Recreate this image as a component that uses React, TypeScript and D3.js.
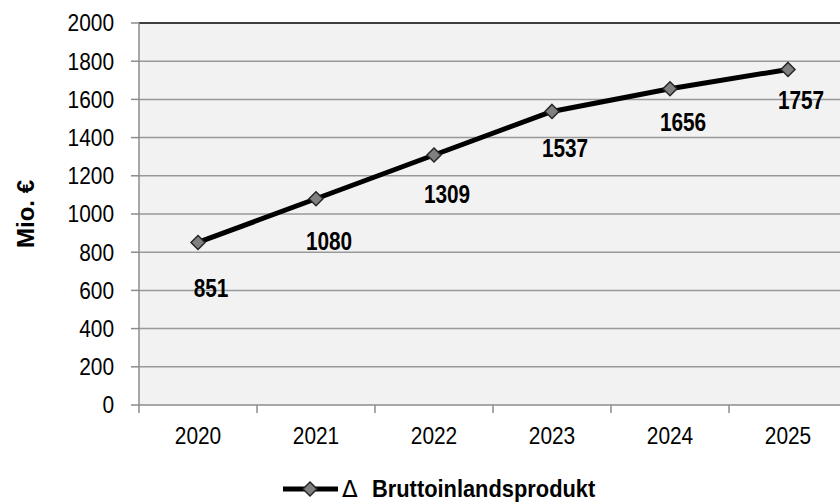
import React from "react";
import * as d3 from "d3";

const years = ["2020", "2021", "2022", "2023", "2024", "2025"];
const values = [851, 1080, 1309, 1537, 1656, 1757];
const yTicks = [0, 200, 400, 600, 800, 1000, 1200, 1400, 1600, 1800, 2000];
const seriesName = "Bruttoinlandsprodukt";
const yTitle = "Mio. €";

const W = 840, H = 504;
const left = 139, top = 23, bottom = 405, bandW = 118;

function NText(props: { x: number; y: number; sx: number; anchor: "start" | "middle" | "end"; size: number; bold?: boolean; children: any }) {
  return (
    <text
      transform={`translate(${props.x},${props.y}) scale(${props.sx},1)`}
      dy="0.35em"
      textAnchor={props.anchor}
      fontSize={props.size}
      fontWeight={props.bold ? "bold" : "normal"}
      fill="#000"
    >
      {props.children}
    </text>
  );
}

export default function App() {
  const x = d3.scaleBand().domain(years).range([left, left + bandW * years.length]);
  const y = d3.scaleLinear().domain([0, 2000]).range([bottom, top]);
  const cx = (d: string) => (x(d) as number) + x.bandwidth() / 2;
  const line = d3.line<number>().x((_, i) => cx(years[i])).y((v) => y(v));
  const font = "'Liberation Sans', Arial, sans-serif";
  const diamond = (s: number) => `M0,${-s}L${s},0L0,${s}L${-s},0Z`;
  return (
    <svg width={W} height={H} style={{ position: "absolute", left: 0, top: 0 }} fontFamily={font}>
      <rect x={0} y={0} width={W} height={H} fill="#fff" />
      <rect x={left} y={top} width={W - left} height={bottom - top} fill="#f2f2f2" />
      {yTicks.filter((t) => t > 0 && t < 2000).map((t) => (
        <line key={t} x1={left} x2={W} y1={y(t)} y2={y(t)} stroke="#999" strokeWidth={1.5} />
      ))}
      <line x1={left} x2={W} y1={top} y2={top} stroke="#000" strokeWidth={1.5} />
      <line x1={left} x2={left} y1={top} y2={bottom} stroke="#8c8c8c" strokeWidth={1.5} />
      <line x1={left} x2={W} y1={bottom} y2={bottom} stroke="#8c8c8c" strokeWidth={1.5} />
      {yTicks.map((t) => (
        <g key={t}>
          <line x1={left - 8} x2={left} y1={y(t)} y2={y(t)} stroke="#8c8c8c" strokeWidth={1.5} />
          <NText x={114} y={y(t)} sx={0.87} anchor="end" size={24}>{t}</NText>
        </g>
      ))}
      {years.map((d) => (
        <g key={d}>
          <line x1={x(d) as number} x2={x(d) as number} y1={bottom} y2={bottom + 8} stroke="#8c8c8c" strokeWidth={1.5} />
          <NText x={cx(d)} y={436} sx={0.87} anchor="middle" size={24}>{d}</NText>
        </g>
      ))}
      <path d={line(values) || ""} fill="none" stroke="#000" strokeWidth={5} strokeLinejoin="round" />
      {values.map((v, i) => (
        <path key={i} d={diamond(7)} transform={`translate(${cx(years[i])},${y(v)})`} fill="#808080" stroke="#262626" strokeWidth={1.5} />
      ))}
      {values.map((v, i) => (
        <NText key={"l" + i} x={cx(years[i]) + 13} y={y(v) + 45 - 3 * i} sx={0.8} anchor="middle" size={26} bold>{v}</NText>
      ))}
      <text transform={`translate(26,214) rotate(-90)`} textAnchor="middle" dy="0.35em" fontSize={24} fontWeight="bold">{yTitle}</text>
      <g transform="translate(0,489)">
        <line x1={283} x2={338} y1={0} y2={0} stroke="#000" strokeWidth={5} />
        <path d={diamond(7)} transform="translate(310,0)" fill="#808080" stroke="#262626" strokeWidth={1.5} />
        <text x={342} y={0} dy="0.35em" fontSize={23} fontFamily="'DejaVu Sans', sans-serif">Δ</text>
        <NText x={372} y={0} sx={0.95} anchor="start" size={23} bold>{seriesName}</NText>
      </g>
    </svg>
  );
}
